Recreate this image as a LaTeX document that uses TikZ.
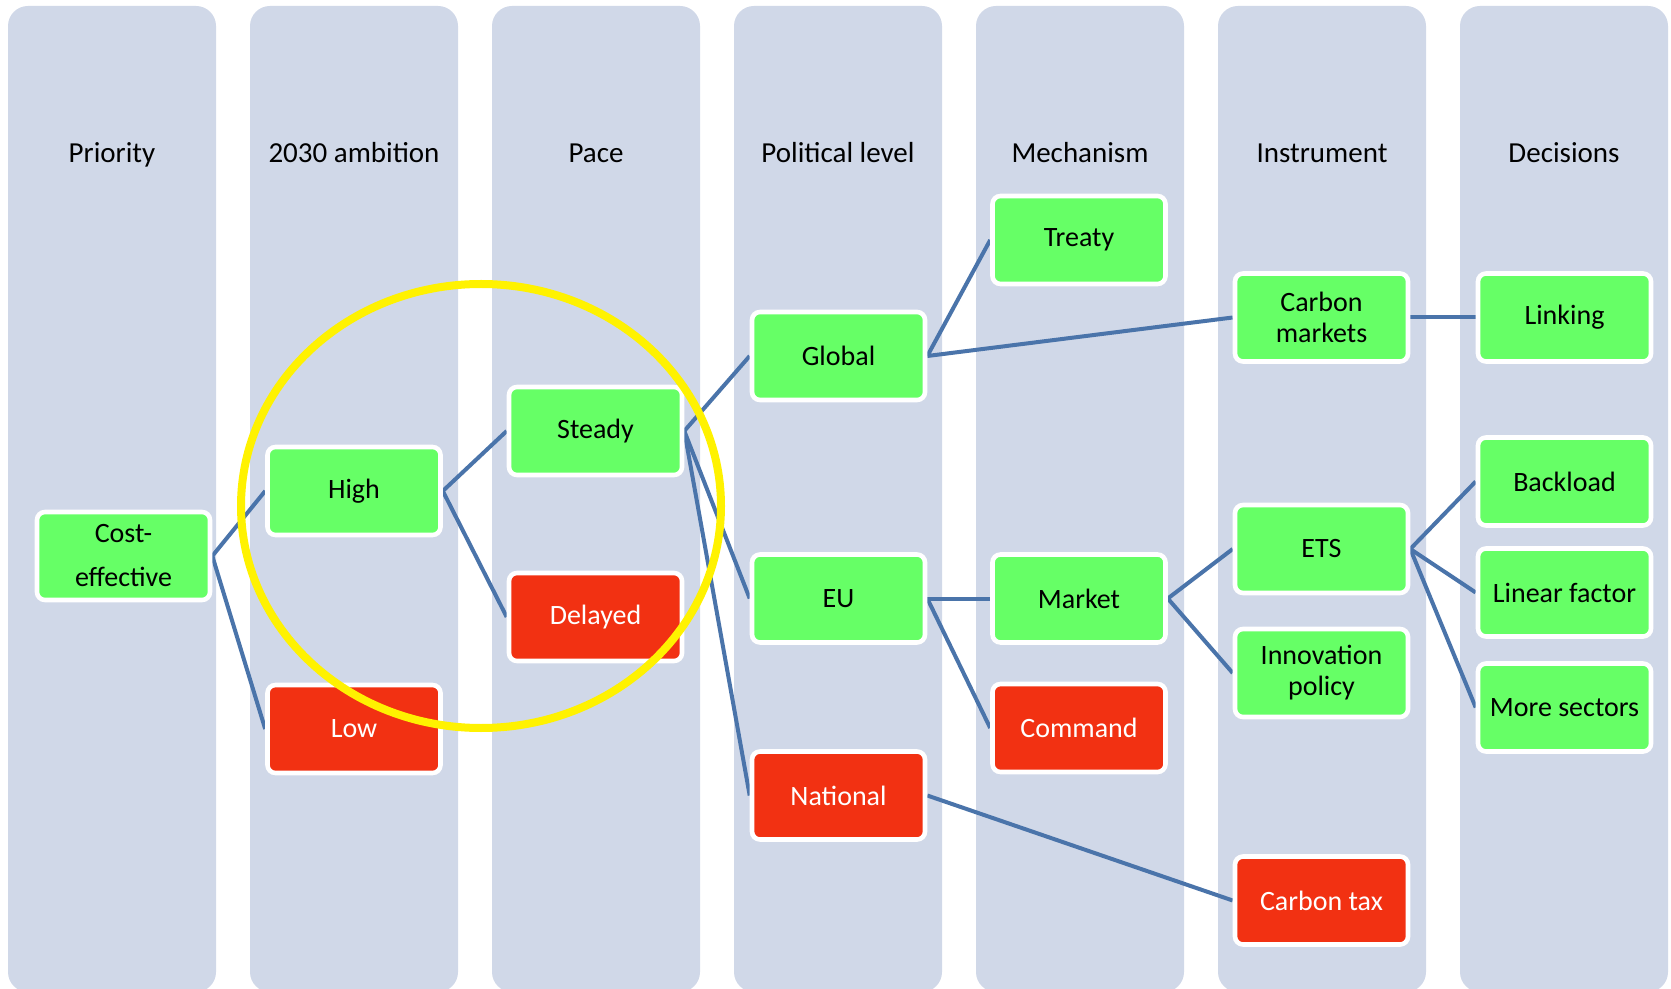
\documentclass[tikz,border=0pt]{standalone}
\usepackage{fontspec}
\setmainfont{Carlito}
\definecolor{colbg}{HTML}{D0D8E8}
\definecolor{goodg}{HTML}{66FF66}
\definecolor{badr}{HTML}{F23112}
\definecolor{edgeb}{HTML}{4A74AA}
\pgfdeclarelayer{back}
\pgfdeclarelayer{edges}
\pgfdeclarelayer{front}
\pgfsetlayers{back,edges,main,front}
\begin{document}
\begin{tikzpicture}[x=0.5pt,y=-0.5pt,
  colbox/.style={fill=colbg, rounded corners=10pt},
  hdr/.style={font=\fontsize{14.5}{17}\selectfont, text=black, anchor=base, inner sep=0pt},
  box/.style={draw=white, line width=2.3pt, rounded corners=4pt, minimum width=86.5pt, minimum height=44pt, inner sep=0pt, align=center, font=\fontsize{14}{15.5}\selectfont},
  good/.style={box, fill=goodg, text=black},
  bad/.style={box, fill=badr, text=white},
  link/.style={draw=edgeb, line width=2pt},
  ring/.style={draw=yellow, line width=4pt}]
\useasboundingbox (0,0) rectangle (1671,989);
\begin{pgfonlayer}{back}
\fill[white] (0,0) rectangle (1671,989);
\foreach \i/\t in {0/Priority,1/2030 ambition,2/Pace,3/Political level,4/Mechanism,5/Instrument,6/Decisions}{
  \fill[colbox] (8+242*\i,6) rectangle ++(208,986);
  \node[hdr] (h\i) at (112+242*\i,163) {\t};
}
\end{pgfonlayer}
% column 1
\node[good, font=\fontsize{14}{22}\selectfont] (ce) at (123.5,556) {Cost-\\effective};
% column 2
\node[good] (high) at (354,491) {High};
\node[bad] (low) at (354,729) {Low};
% column 3
\node[good] (steady) at (595.5,431) {Steady};
\node[bad] (delayed) at (595.5,617) {Delayed};
% column 4
\node[good] (global) at (838.5,356) {Global};
\node[good] (eu) at (838.5,598.5) {EU};
\node[bad] (national) at (838.5,795.5) {National};
% column 5
\node[good] (treaty) at (1079,240) {Treaty};
\node[good] (market) at (1079,598.5) {Market};
\node[bad] (command) at (1079,728) {Command};
% column 6
\node[good] (cmkt) at (1321.5,317.5) {Carbon\\markets};
\node[good] (ets) at (1321.5,549) {ETS};
\node[good] (innov) at (1321.5,673) {Innovation\\policy};
\node[bad] (ctax) at (1321.5,900.5) {Carbon tax};
% column 7
\node[good] (linking) at (1564.5,317.5) {Linking};
\node[good] (backload) at (1564.5,481.5) {Backload};
\node[good] (linear) at (1564.5,592.5) {Linear factor};
\node[good] (more) at (1564.5,707.5) {More sectors};
\begin{pgfonlayer}{edges}
\draw[link] (ce.east) -- (high.west);
\draw[link] (ce.east) -- (low.west);
\draw[link] (high.east) -- (steady.west);
\draw[link] (high.east) -- (delayed.west);
\draw[link] (steady.east) -- (global.west);
\draw[link] (steady.east) -- (eu.west);
\draw[link] (steady.east) -- (national.west);
\draw[link] (global.east) -- (treaty.west);
\draw[link] (global.east) -- (cmkt.west);
\draw[link] (eu.east) -- (market.west);
\draw[link] (eu.east) -- (command.west);
\draw[link] (national.east) -- (ctax.west);
\draw[link] (market.east) -- (ets.west);
\draw[link] (market.east) -- (innov.west);
\draw[link] (cmkt.east) -- (linking.west);
\draw[link] (ets.east) -- (backload.west);
\draw[link] (ets.east) -- (linear.west);
\draw[link] (ets.east) -- (more.west);
\end{pgfonlayer}
\begin{pgfonlayer}{front}
\draw[ring] (481,506) ellipse [x radius=120pt, y radius=111pt];
\end{pgfonlayer}
\end{tikzpicture}
\end{document}
